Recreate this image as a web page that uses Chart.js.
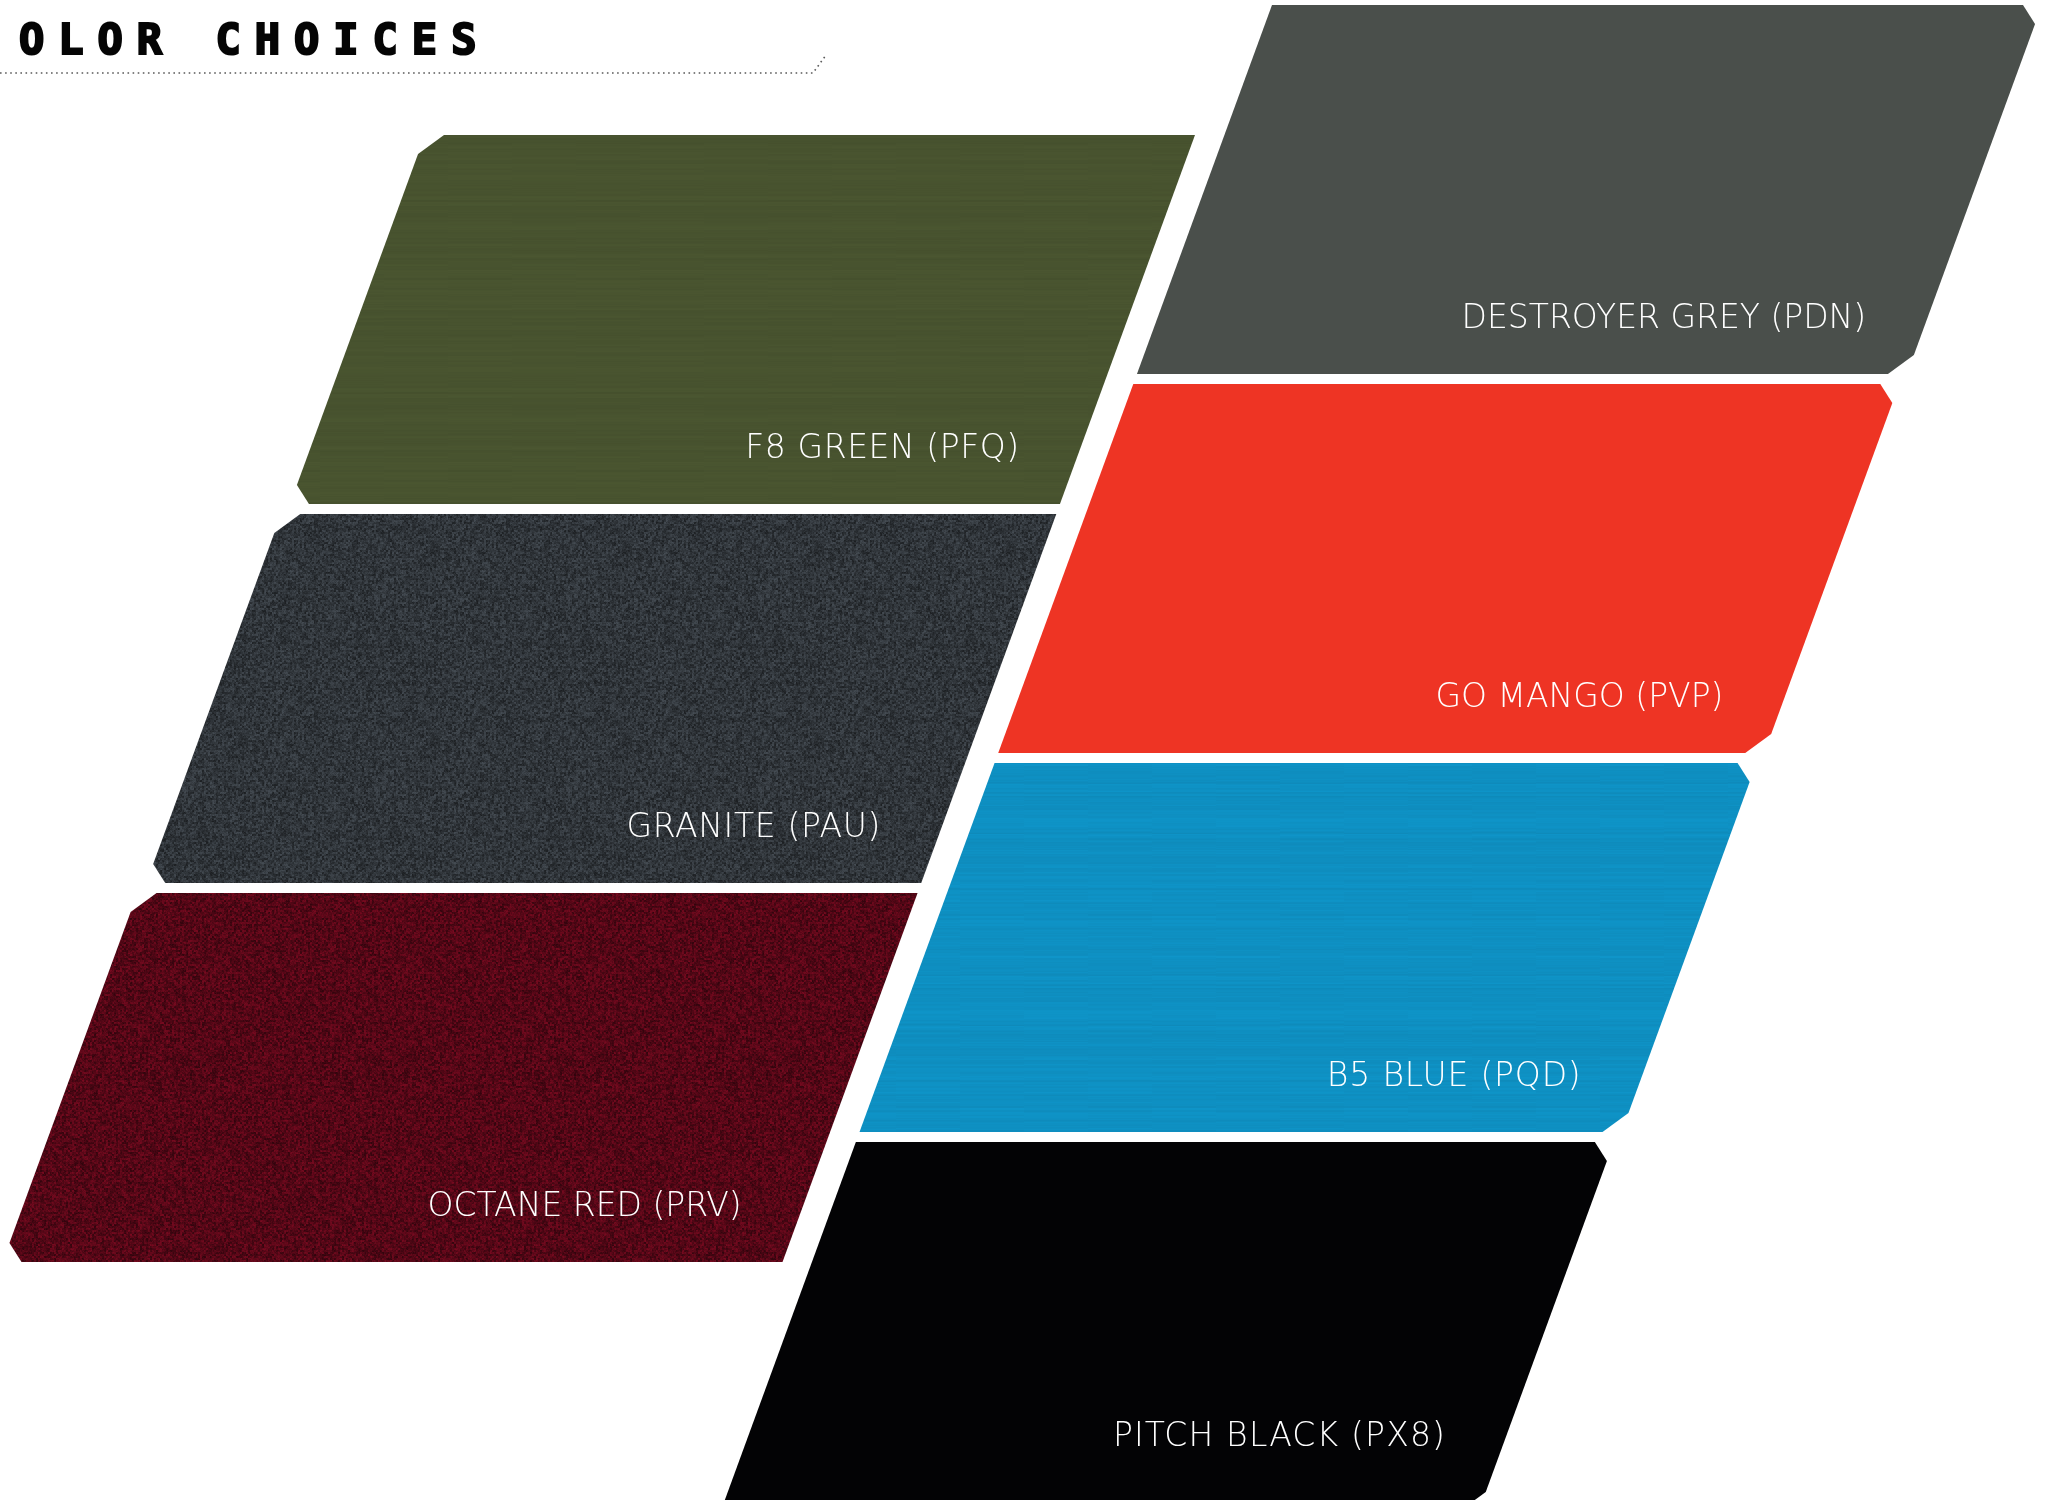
<!DOCTYPE html>
<html>
<head>
<meta charset="utf-8">
<title>Color Choices</title>
<script src="https://cdn.jsdelivr.net/npm/chart.js@4.4.1/dist/chart.umd.min.js"></script>
<style>
  html, body { margin: 0; padding: 0; background: #ffffff; overflow: hidden; }
  #wrap { width: 2051px; height: 1500px; position: relative; }
</style>
</head>
<body>
<div id="wrap"><canvas id="swatchChart"></canvas></div>
<script>
// ================= DATA =================
const colorNames = ["F8 GREEN", "GRANITE", "OCTANE RED", "DESTROYER GREY", "GO MANGO", "B5 BLUE", "PITCH BLACK"];
const paintCodes = ["PFQ", "PAU", "PRV", "PDN", "PVP", "PQD", "PX8"];
const swatchColumn = [0, 0, 0, 1, 1, 1, 1];
const swatchRow = [0, 1, 2, 0, 1, 2, 3];
const titleText = "OLOR CHOICES";

// ================= LAYOUT / STYLE =================
const PAGE_W = 2051, PAGE_H = 1500;
const SWATCH_W = 770, SWATCH_H = 369, ROW_PITCH = 379, SHEAR = 0.366, CHAMFER = 19;
const COLUMN_TOP = [135, 5];
const COLUMN_LEFT = [425, 1272];
const COLUMN_GROW = [5, -4]; // swatches widen a touch per row on the left, narrow on the right
const LABEL_DROP = 311, LABEL_INSET = 62, LABEL_FLOOR = 66;
const LABEL_PITCH = 19.6; // px per character in the labels

const swatchBase = ["#48532f", "#30353a", "#540716", "#4a4f4b", "#ee3424", "#0e8fc1", "#030305"];
const swatchTexture = ["brushed", "speckle", "speckle", "flat", "flat", "brushed", "flat"];

// ================= TEXTURES =================
function hash(i, j, seed) {
  let h = (i * 374761393 + j * 668265263 + seed * 1442695041) | 0;
  h = Math.imul(h ^ (h >>> 13), 1274126177);
  h = h ^ (h >>> 16);
  return ((h >>> 0) % 10000) / 10000;
}

function hexToRgb(hex) {
  const n = parseInt(hex.slice(1), 16);
  return [(n >> 16) & 255, (n >> 8) & 255, n & 255];
}

function makeTexture(base, kind, seed) {
  if (kind === "flat") return base;
  const size = 192;
  const c = document.createElement("canvas");
  c.width = c.height = size;
  const g = c.getContext("2d");
  const img = g.createImageData(size, size);
  const rgb = hexToRgb(base);
  for (let y = 0; y < size; y++) {
    for (let x = 0; x < size; x++) {
      let f;
      if (kind === "speckle") {
        const n = hash(x >> 1, y >> 1, seed) - 0.5;
        const m = hash(x, y, seed + 7) - 0.5;
        f = 1 + n * 0.6 + m * 0.3;
      } else {
        const row = hash(0, y >> 1, seed + 3) - 0.5;
        const streak = hash(Math.floor(x / 64), y, seed) - 0.5;
        f = 1 + row * 0.05 + streak * 0.03;
      }
      const k = (y * size + x) * 4;
      img.data[k] = Math.min(255, rgb[0] * f);
      img.data[k + 1] = Math.min(255, rgb[1] * f);
      img.data[k + 2] = Math.min(255, rgb[2] * f);
      img.data[k + 3] = 255;
    }
  }
  g.putImageData(img, 0, 0);
  return g.createPattern(c, "repeat");
}

// ================= GEOMETRY =================
function swatchBox(i) {
  const col = swatchColumn[i], row = swatchRow[i];
  const ty = COLUMN_TOP[col] + row * ROW_PITCH;
  const shift = row * ROW_PITCH * SHEAR;
  const w = SWATCH_W + row * COLUMN_GROW[col];
  let tl, tr;
  if (col === 0) {
    tr = COLUMN_LEFT[col] + SWATCH_W - shift;
    tl = tr - w;
  } else {
    tl = COLUMN_LEFT[col] - shift;
    tr = tl + w;
  }
  return { col, ty, tl, tr, by: ty + SWATCH_H };
}

function swatchOutline(i) {
  const { col, ty, tl, tr, by } = swatchBox(i);
  const bl = tl - SWATCH_H * SHEAR, br = tr - SWATCH_H * SHEAR;
  const dx = CHAMFER * SHEAR;
  let pts;
  if (col === 0) {
    // outer (left) corners are cut
    pts = [[tl + CHAMFER, ty], [tr, ty], [br, by], [bl + CHAMFER, by], [bl + dx, by - CHAMFER], [tl - dx, ty + CHAMFER]];
  } else {
    // outer (right) corners are cut
    pts = [[tl, ty], [tr - CHAMFER, ty], [tr - dx, ty + CHAMFER], [br + dx, by - CHAMFER], [br - CHAMFER, by], [bl, by]];
  }
  pts.push(pts[0]);
  return pts.map(p => ({ x: p[0], y: p[1] }));
}

// ================= PLUGINS =================
const headerPlugin = {
  id: "header",
  afterDraw(chart) {
    const { ctx } = chart;
    ctx.save();
    ctx.fillStyle = "#050505";
    ctx.strokeStyle = "#050505";
    ctx.lineWidth = 2.2;
    ctx.lineJoin = "miter";
    ctx.font = "bold 42px 'DejaVu Sans Mono', monospace";
    ctx.letterSpacing = "14px";
    ctx.textAlign = "left";
    ctx.textBaseline = "alphabetic";
    ctx.fillText(titleText, 19, 54);
    ctx.strokeText(titleText, 19, 54);

    ctx.letterSpacing = "0px";
    ctx.strokeStyle = "#5a5a5a";
    ctx.lineWidth = 1.6;
    ctx.setLineDash([1.6, 3.5]);
    ctx.beginPath();
    ctx.moveTo(0, 73);
    ctx.lineTo(813, 73);
    ctx.lineTo(826, 55);
    ctx.stroke();
    ctx.restore();
  }
};

const labelPlugin = {
  id: "swatchLabels",
  afterDatasetsDraw(chart) {
    const { ctx, scales: { x, y } } = chart;
    ctx.save();
    ctx.fillStyle = "#ffffff";
    ctx.font = "300 33px 'DejaVu Sans', sans-serif";
    ctx.fontStretch = "condensed";
    ctx.textAlign = "right";
    ctx.textBaseline = "alphabetic";
    colorNames.forEach((name, i) => {
      const text = name + " (" + paintCodes[i] + ")";
      ctx.letterSpacing = "0px";
      const bare = ctx.measureText(text).width;
      const spacing = Math.max(0, (LABEL_PITCH * text.length - bare) / text.length);
      ctx.letterSpacing = spacing.toFixed(2) + "px";
      const { ty, tr } = swatchBox(i);
      const ly = Math.min(ty + LABEL_DROP, PAGE_H - LABEL_FLOOR);
      const edge = tr - (ly - ty) * SHEAR;
      ctx.fillText(text, x.getPixelForValue(edge - LABEL_INSET) + spacing, y.getPixelForValue(ly) + 12);
    });
    ctx.restore();
  }
};

// ================= CHART =================
const ctx = document.getElementById("swatchChart").getContext("2d");
const textures = swatchBase.map((c, i) => makeTexture(c, swatchTexture[i], i + 1));

new Chart(ctx, {
  type: "scatter",
  data: {
    datasets: colorNames.map((name, i) => ({
      label: name + " (" + paintCodes[i] + ")",
      data: swatchOutline(i),
      showLine: true,
      fill: "shape",
      backgroundColor: textures[i],
      borderColor: "rgba(0,0,0,0)",
      borderWidth: 0,
      pointRadius: 0,
      pointHoverRadius: 0,
      tension: 0,
    })),
  },
  options: {
    responsive: true,
    maintainAspectRatio: false,
    animation: false,
    events: [],
    layout: { padding: 0 },
    scales: {
      x: { type: "linear", min: 0, max: PAGE_W, display: false },
      y: { type: "linear", min: 0, max: PAGE_H, reverse: true, display: false },
    },
    plugins: {
      legend: { display: false },
      tooltip: { enabled: false },
    },
  },
  plugins: [headerPlugin, labelPlugin],
});
</script>
</body>
</html>
